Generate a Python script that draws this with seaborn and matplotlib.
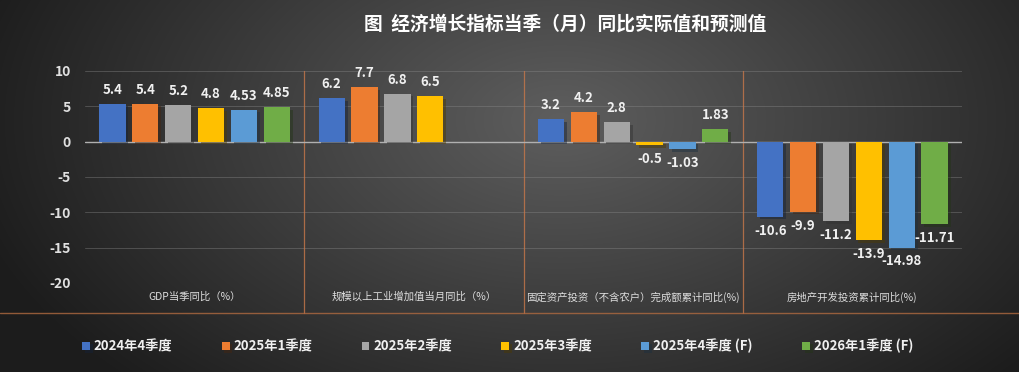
import matplotlib
matplotlib.use("Agg")
import matplotlib.pyplot as plt
import matplotlib.patheffects as pe
from matplotlib.lines import Line2D
import numpy as np
import pandas as pd
import seaborn as sns

# data
categories = ["GDP当季同比（%）", "规模以上工业增加值当月同比（%）",
              "固定资产投资（不含农户）完成额累计同比(%)", "房地产开发投资累计同比(%)"]
periods = ["2024年4季度", "2025年1季度", "2025年2季度", "2025年3季度",
           "2025年4季度 (F)", "2026年1季度 (F)"]
gdp = [5.4, 5.4, 5.2, 4.8, 4.53, 4.85]
industry = [6.2, 7.7, 6.8, 6.5, np.nan, np.nan]
fai = [3.2, 4.2, 2.8, -0.5, -1.03, 1.83]
realestate = [-10.6, -9.9, -11.2, -13.9, -14.98, -11.71]
yticks = [-20, -15, -10, -5, 0, 5, 10]

colors = ["#4472C4", "#ED7D31", "#A5A5A5", "#FFC000", "#5B9BD5", "#70AD47"]

rows = []
for cat, vals in zip(categories, [gdp, industry, fai, realestate]):
    for p, v in zip(periods, vals):
        rows.append({"cat": cat, "period": p, "value": v})
df = pd.DataFrame(rows).dropna()

sns.set_style("dark")
plt.rcParams["font.family"] = ["Noto Sans CJK SC", "DejaVu Sans"]

W, H = 1020, 372
fig = plt.figure(figsize=(W / 100, H / 100), dpi=100)

# radial background
bg = fig.add_axes([0, 0, 1, 1], zorder=-10)
yy, xx = np.mgrid[0:H, 0:W]
d = np.sqrt(((xx - 560) / 540) ** 2 + ((yy - 120) / 330) ** 2)
v = np.clip(0.37 - 0.23 * d, 0.11, 0.4)
bg.imshow(np.dstack([v, v, v]), aspect="auto", extent=[0, 1, 0, 1])
bg.set_axis_off()

ax = fig.add_axes([85 / W, 89 / H, 877 / W, 212 / H])
ax.set_facecolor("none")
sns.barplot(data=df, x="cat", y="value", hue="period", order=categories,
            hue_order=periods, palette=colors, width=0.9, gap=0.2,
            saturation=1, ax=ax, legend=True, zorder=3, linewidth=0,
            edgecolor="none")

for bar in ax.patches:
    bar.set_path_effects([pe.SimplePatchShadow(offset=(2, -2), alpha=0.45), pe.Normal()])

for cont in ax.containers:
    ax.bar_label(cont, fmt="%g", padding=5, color="#f0f0f0", fontsize=9.5,
                 fontweight="bold")

ax.set_ylim(-20, 10)
ax.set_xlim(-0.5, 3.5)
ax.set_yticks(yticks)
ax.set_yticklabels([str(t) for t in yticks], color="#e0e0e0", fontsize=10,
                   fontweight="bold")
ax.tick_params(axis="y", length=0, pad=10)
ax.tick_params(axis="x", length=0, pad=6)
ax.set_xticks(range(len(categories)))
ax.set_xticklabels(categories, color="#dddddd", fontsize=7.5)
ax.set_xlabel("")
ax.set_ylabel("")
for s in ax.spines.values():
    s.set_visible(False)
ax.grid(False)
for t in yticks:
    if t == 0:
        ax.axhline(0, color="#b0b0b0", lw=1.0, zorder=2)
    else:
        ax.axhline(t, color="#8a8a8a", lw=0.7, alpha=0.4, zorder=1)

# category separators and bottom rule
for xs in [0.5, 1.5, 2.5]:
    ax.add_line(Line2D([xs, xs], [-24.2, 10], color="#c8784a", lw=0.9, alpha=0.8,
                       clip_on=False, zorder=1))
fig.add_artist(Line2D([0, 1], [1 - 313 / H, 1 - 313 / H], color="#b06a40",
                      lw=1.0, alpha=0.8, transform=fig.transFigure))

fig.text(565 / W, 1 - 24 / H, "图  经济增长指标当季（月）同比实际值和预测值",
         ha="center", va="center", color="white", fontsize=13.5, fontweight="bold")

handles, labels = ax.get_legend_handles_labels()
ax.legend_.remove()
fig.legend(handles, labels, loc="center left", ncol=6, frameon=False,
           bbox_to_anchor=(70 / W, 1 - 348 / H, 855 / W, 0.01), mode="expand",
           handlelength=0.6, handleheight=0.6, handletextpad=0.3,
           prop={"size": 9.5, "weight": "bold"}, labelcolor="#f0f0f0")

fig.savefig("out.png", dpi=100)
